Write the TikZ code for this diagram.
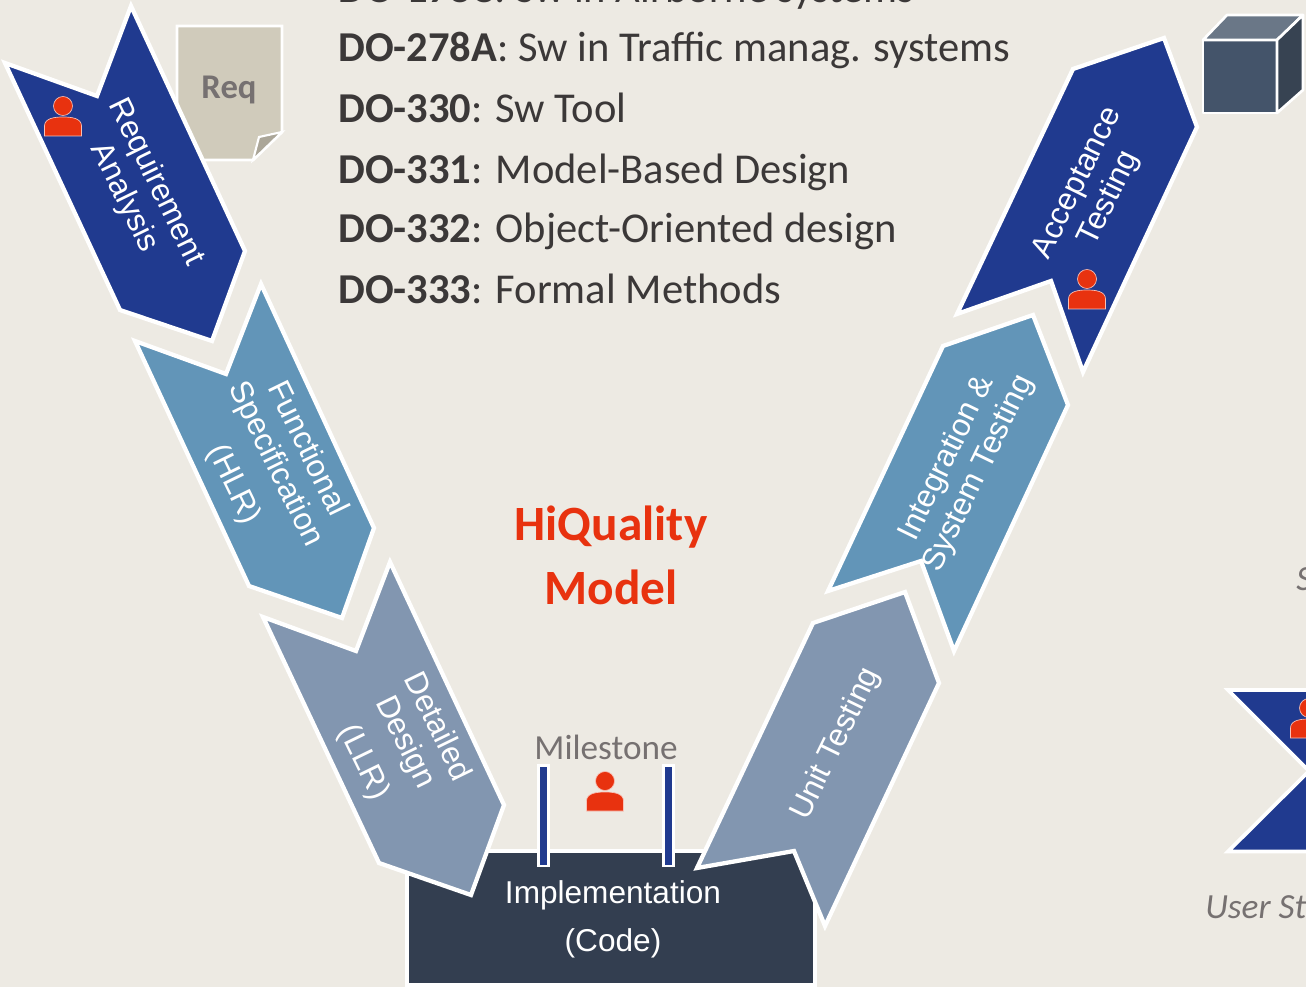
\documentclass[tikz,border=0pt]{standalone}
\usepackage{fontspec}
\setmainfont{Liberation Sans}
\newfontfamily\calfam{Carlito}
\definecolor{bgc}{HTML}{EDEAE3}
\definecolor{navy}{HTML}{203A8F}
\definecolor{midb}{HTML}{6295B8}
\definecolor{lightb}{HTML}{8296B0}
\definecolor{darkb}{HTML}{333E50}
\definecolor{redp}{HTML}{E8320F}
\definecolor{txtd}{HTML}{3B3838}
\definecolor{txtg}{HTML}{767171}
\definecolor{docc}{HTML}{D0CBBB}
\definecolor{foldc}{HTML}{ABA698}
\definecolor{cubef}{HTML}{44546A}
\definecolor{cubet}{HTML}{6A7787}
\definecolor{cubes}{HTML}{374352}
\tikzset{
  arrowshape/.style={draw=white,line width=3.2pt,line join=miter,miter limit=10},
  arrowtext/.style={text=white,align=center,font=\fontsize{23.7}{26.5}\selectfont,inner sep=0pt},
  listtext/.style={anchor=base west,text=txtd,inner sep=0pt,font=\calfam\fontsize{31.9}{36}\selectfont},
  grayit/.style={anchor=base west,text=txtg,inner sep=0pt,font=\calfam\itshape\fontsize{26.5}{30}\selectfont},
  cubeface/.style={draw=white,line width=2pt,line join=round},
  barbox/.style={fill=navy,draw=white,line width=1.9pt},
}
\newcommand{\personat}[2]{%
  \begin{scope}[shift={(#1,#2)}]
    \fill[redp,draw=white!70!redp,line width=.5pt] (0,-12) circle (9.5);
    \fill[redp,draw=white!70!redp,line width=.5pt] (-18.5,18) -- (-18.5,8) .. controls (-18.5,0) and (-8,-1) .. (0,-1) .. controls (8,-1) and (18.5,0) .. (18.5,8) -- (18.5,18) -- cycle;
  \end{scope}}
\begin{document}
\begin{tikzpicture}[x=0.75pt,y=-0.75pt]
\useasboundingbox (0,0) rectangle (1306,987);
\clip (0,0) rectangle (1306,987);
\fill[bgc] (0,0) rectangle (1306,987);
% list
\node[listtext] (l0) at (338,3) {\textbf{DO-178C}: Sw in Airborne systems};
\node[listtext] (l1) at (338,62) {\textbf{DO-278A}: Sw in Traffic manag. systems};
\node[listtext] (l2) at (338,123) {\textbf{DO-330}: Sw Tool};
\node[listtext] (l3) at (338,184) {\textbf{DO-331}: Model-Based Design};
\node[listtext] (l4) at (338,243) {\textbf{DO-332}: Object-Oriented design};
\node[listtext] (l5) at (338,304) {\textbf{DO-333}: Formal Methods};
% document
\fill[docc,draw=white,line width=2.2pt,line join=miter] (177,26) -- (282,26) -- (282,132) -- (253,160) -- (177,160) -- cycle;
\fill[foldc,draw=white,line width=1.6pt] (253,160) -- (259,137) -- (282,132) -- cycle;
\node[text=txtg,inner sep=0pt,font=\calfam\bfseries\fontsize{26}{30}\selectfont] (req) at (229,90) {Req};
% implementation
\fill[darkb,draw=white,line width=2.6pt] (407,851) rectangle (815,985);
% left arrows
\fill[navy,arrowshape] (131,6) -- (245,251) -- (212,341) -- (120,310) -- (5,63) -- (97,96) -- cycle;
\fill[midb,arrowshape] (261,284) -- (374,528) -- (342,618) -- (249,586) -- (135,341) -- (226,374) -- cycle;
\fill[lightb,arrowshape] (390,562) -- (504,805) -- (471,895) -- (379,863) -- (263,617) -- (356,651) -- cycle;
% right arrows
\fill[navy,arrowshape] (1073,69) -- (1164,38) -- (1197,127) -- (1083,372) -- (1051,281) -- (957,314) -- cycle;
\fill[midb,arrowshape] (943,346) -- (1033,315) -- (1068,405) -- (954,651) -- (921,561) -- (828,591) -- cycle;
\fill[lightb,arrowshape] (813,623) -- (905,592) -- (939,683) -- (825,926) -- (794,851) -- (697,868) -- cycle;
% bars
\path[barbox] (538.7,765.5) rectangle (548.3,866);
\path[barbox] (663.7,765.5) rectangle (673.3,866);
% arrow labels
\node[arrowtext,rotate=-64] (ra) at (140,190) {Requirement\\Analysis};
\node[arrowtext,rotate=-64] (fs) at (270,467) {Functional\\Specification\\[8pt](HLR)};
\node[arrowtext,rotate=-64] (dd) at (400,745) {Detailed\\Design\\[8pt](LLR)};
\node[arrowtext,rotate=64] (at) at (1094,191) {Acceptance\\Testing};
\node[arrowtext,rotate=64] (is) at (963,466) {Integration \&\\System Testing};
\node[arrowtext,rotate=64] (ut) at (836,744) {Unit Testing};
\node[text=white,inner sep=0pt,font=\fontsize{23.7}{26}\selectfont] (im) at (613,895) {Implementation};
\node[text=white,inner sep=0pt,font=\fontsize{23.7}{26}\selectfont] (co) at (613,943) {(Code)};
% title
\node[text=redp,inner sep=0pt,font=\calfam\bfseries\fontsize{37}{42}\selectfont] (h1) at (611,527) {HiQuality};
\node[text=redp,inner sep=0pt,font=\calfam\bfseries\fontsize{37}{42}\selectfont] (h2) at (611,587) {Model};
\node[text=txtg,inner sep=0pt,font=\calfam\fontsize{26.4}{30}\selectfont] (ms) at (606,747) {Milestone};
% persons
\personat{63}{118}
\personat{605}{793}
\personat{1087}{291}
% cube
\fill[cubef,cubeface] (1203,40) rectangle (1277,113);
\fill[cubet,cubeface] (1203,40) -- (1227,15) -- (1303,15) -- (1277,40) -- cycle;
\fill[cubes,cubeface] (1277,40) -- (1303,15) -- (1303,90) -- (1277,113) -- cycle;
% right edge pieces
\fill[navy,draw=white,line width=2.8pt,line join=miter,miter limit=10] (1228,690) -- (1330,690) -- (1330,851.5) -- (1228,851.5) -- (1309,771) -- cycle;
\personat{1309}{720}
\node[grayit] (s1) at (1296,590) {S};
\node[grayit] (us) at (1205,918) {User St};
\end{tikzpicture}
\end{document}
